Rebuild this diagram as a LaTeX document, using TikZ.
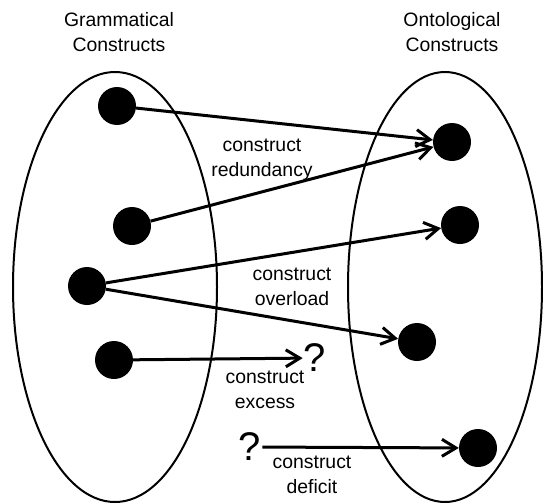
\documentclass[tikz,border=0pt]{standalone}
\usepackage{fontspec}
\setmainfont{Liberation Sans}
\usetikzlibrary{arrows.meta}

\begin{document}
\begin{tikzpicture}[
  font=\fontsize{19.4}{25}\selectfont,
  set/.style={line width=2pt},
  dot/.style={circle,fill=black,minimum size=38pt,inner sep=0pt},
  qmark/.style={font=\fontsize{40}{40}\selectfont,inner sep=1pt},
  lbl/.style={align=center},
  link/.style={line width=3pt,->},
  >={Straight Barb[length=14pt,width=17pt]}]
\useasboundingbox (0,0) rectangle (543pt,-503pt);
% the two sets
\draw[set] (115pt,-287pt) ellipse [x radius=102pt,y radius=215pt];
\draw[set] (445pt,-287pt) ellipse [x radius=97pt,y radius=215pt];
\node[lbl] (gram) at (119pt,-32pt) {Grammatical\\Constructs};
\node[lbl] (onto) at (452pt,-32pt) {Ontological\\Constructs};
% grammatical constructs
\node[dot] (g1) at (117pt,-106pt) {};
\node[dot] (g2) at (132pt,-226pt) {};
\node[dot] (g3) at (87pt,-286pt)  {};
\node[dot] (g4) at (114pt,-360pt) {};
% ontological constructs
\node[dot] (o1) at (452pt,-142pt) {};
\node[dot] (o2) at (460pt,-225pt) {};
\node[dot] (o3) at (417pt,-342pt) {};
\node[dot] (o4) at (478pt,-448pt) {};
% unmapped ends
\node[qmark] (q1) at (315pt,-358pt) {?};
\node[qmark] (q2) at (250pt,-447pt) {?};
% mappings
\draw[link] (g1) -- (o1); \draw[link] (g2) -- (o1);
\draw[link] (g3) -- (o2); \draw[link] (g3) -- (o3);
\draw[link] (g4) -- (q1); \draw[link] (q2) -- (o4);
% labels
\node[lbl] (red) at (262pt,-160pt) {construct\\redundancy};
\node[lbl] (ovl) at (292pt,-287pt) {construct\\overload};
\node[lbl] (exc) at (265pt,-390pt) {construct\\excess};
\node[lbl] (def) at (312pt,-475pt) {construct\\deficit};
\end{tikzpicture}
\end{document}
